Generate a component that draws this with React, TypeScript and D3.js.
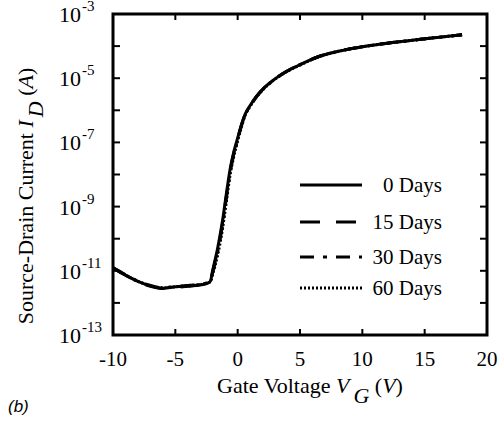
import React from "react";
import * as d3 from "d3";

const vg = [-10, -9, -8, -7, -6, -5, -4, -3, -2.5, -2.2, -2.0, -1.6, -1.2, -0.9, -0.6, -0.3, 0, 0.3, 0.6, 1.0, 1.5, 2.2, 3.0, 3.6, 5, 6.4, 8, 10, 12, 14, 16, 18];
const log0 = [-10.91, -11.13, -11.33, -11.47, -11.54, -11.5, -11.47, -11.44, -11.4, -11.33, -10.98, -10.28, -9.4, -8.58, -7.82, -7.28, -6.86, -6.45, -6.12, -5.85, -5.57, -5.27, -5.02, -4.86, -4.58, -4.34, -4.17, -4.02, -3.91, -3.82, -3.73, -3.65];
const log15 = [-10.92, -11.14, -11.34, -11.48, -11.55, -11.52, -11.48, -11.43, -11.39, -11.34, -11.02, -10.35, -9.48, -8.66, -7.88, -7.32, -6.89, -6.47, -6.13, -5.86, -5.58, -5.27, -5.02, -4.86, -4.58, -4.34, -4.17, -4.02, -3.91, -3.82, -3.73, -3.65];
const log30 = [-10.9, -11.12, -11.32, -11.46, -11.53, -11.49, -11.46, -11.42, -11.38, -11.32, -11.05, -10.4, -9.55, -8.72, -7.93, -7.36, -6.92, -6.49, -6.14, -5.87, -5.58, -5.28, -5.03, -4.87, -4.58, -4.34, -4.17, -4.02, -3.91, -3.82, -3.73, -3.65];
const log60 = [-10.91, -11.13, -11.33, -11.46, -11.53, -11.5, -11.46, -11.43, -11.39, -11.35, -11.1, -10.5, -9.65, -8.82, -8.0, -7.42, -6.96, -6.52, -6.16, -5.88, -5.59, -5.29, -5.03, -4.87, -4.59, -4.35, -4.17, -4.02, -3.91, -3.82, -3.73, -3.65];

const seriesNames = ["0 Days", "15 Days", "30 Days", "60 Days"];
const seriesLogs = [log0, log15, log30, log60];
const seriesDash = ["none", "20 16", "14 9 4 9", "2 2"];

const xTicks = [-10, -5, 0, 5, 10, 15, 20];
const yLabelExps = [-3, -5, -7, -9, -11, -13];
const yTickExps = [-3, -4, -5, -6, -7, -8, -9, -10, -11, -12, -13];

const W = 500, H = 421;
const L = 113, R = 487, T = 14, B = 335;

export default function App() {
  const x = d3.scaleLinear().domain([-10, 20]).range([L, R]);
  const y = d3.scaleLog().domain([1e-13, 1e-3]).range([B, T]);

  const line = d3
    .line<[number, number]>()
    .x((d) => x(d[0]))
    .y((d) => y(Math.pow(10, d[1])))
    .curve(d3.curveMonotoneX);

  const legendX1 = 300, legendX2 = 362, legendTextX = 442;
  const legendYs = [185, 222, 257, 288];
  const ts = { fontFamily: '"Liberation Serif"' };

  return (
    <svg width={W} height={H} style={{ position: "absolute", left: 0, top: 0, background: "#fff" }}>
      <rect x={0} y={0} width={W} height={H} fill="#fff" />
      {seriesLogs.map((ls, i) => (
        <path
          key={i}
          d={line(vg.map((v, j) => [v, ls[j]] as [number, number])) || ""}
          fill="none"
          stroke="#000"
          strokeWidth={3}
          strokeDasharray={seriesDash[i]}
          strokeLinejoin="round"
        />
      ))}
      {xTicks.slice(1, -1).map((t) => (
        <g key={"xt" + t}>
          <line x1={x(t)} x2={x(t)} y1={B} y2={B - 6} stroke="#000" strokeWidth={2} />
          <line x1={x(t)} x2={x(t)} y1={T} y2={T + 6} stroke="#000" strokeWidth={2} />
        </g>
      ))}
      {yTickExps.slice(1, -1).map((e) => (
        <g key={"yt" + e}>
          <line x1={L} x2={L + 7} y1={y(Math.pow(10, e))} y2={y(Math.pow(10, e))} stroke="#000" strokeWidth={2} />
          <line x1={R} x2={R - 7} y1={y(Math.pow(10, e))} y2={y(Math.pow(10, e))} stroke="#000" strokeWidth={2} />
        </g>
      ))}
      <rect x={L} y={T} width={R - L} height={B - T} fill="none" stroke="#000" strokeWidth={3} />
      {xTicks.map((t) => (
        <text key={"xl" + t} x={x(t)} y={366} textAnchor="middle" style={ts} fontSize={21}>
          {t}
        </text>
      ))}
      {yLabelExps.map((e) => (
        <text key={"yl" + e} x={59} y={y(Math.pow(10, e)) + 8} style={ts} fontSize={22}>
          10
          <tspan dx={1} dy={-11} fontSize={15}>
            {String(e)}
          </tspan>
        </text>
      ))}
      <text x={310} y={393} textAnchor="middle" style={ts} fontSize={22}>
        Gate Voltage <tspan fontStyle="italic">V</tspan>
        <tspan dx={4} dy={10} fontStyle="italic">G</tspan>
        <tspan dy={-10}> (</tspan>
        <tspan fontStyle="italic">V</tspan>)
      </text>
      <text transform="translate(33, 196) rotate(-90)" textAnchor="middle" style={ts} fontSize={22}>
        Source-Drain Current <tspan fontStyle="italic">I</tspan>
        <tspan dx={3} dy={10} fontStyle="italic">D</tspan>
        <tspan dy={-10}> (</tspan>
        <tspan fontStyle="italic">A</tspan>)
      </text>
      <text x={8} y={412} style={{ fontFamily: '"Liberation Sans"' }} fontStyle="italic" fontSize={17}>
        (b)
      </text>
      {seriesNames.map((n, i) => (
        <g key={"lg" + i}>
          <line
            x1={legendX1}
            x2={legendX2}
            y1={legendYs[i]}
            y2={legendYs[i]}
            stroke="#000"
            strokeWidth={3}
            strokeDasharray={seriesDash[i]}
          />
          <text x={legendTextX} y={legendYs[i] + 7} textAnchor="end" style={ts} fontSize={21}>
            {n}
          </text>
        </g>
      ))}
    </svg>
  );
}
